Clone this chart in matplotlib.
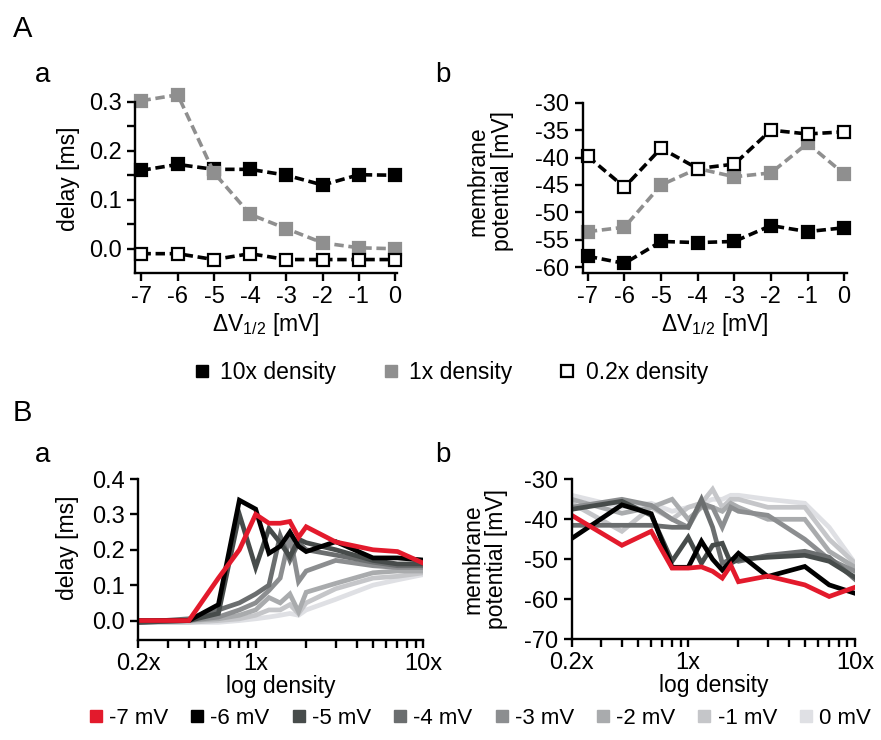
import numpy as np
import matplotlib
matplotlib.use('Agg')
import matplotlib.pyplot as plt
from matplotlib.lines import Line2D
from matplotlib.ticker import FixedLocator, NullFormatter

plt.rcParams['font.family'] = ['Liberation Sans', 'DejaVu Sans']
plt.rcParams['mathtext.fontset'] = 'custom'
plt.rcParams['mathtext.rm'] = 'Liberation Sans'
plt.rcParams['axes.unicode_minus'] = False

# --- panel A data: shift of V1/2 vs delay / membrane potential ---
dv = [-7, -6, -5, -4, -3, -2, -1, 0]
delay_10x = [0.160, 0.172, 0.162, 0.162, 0.150, 0.130, 0.151, 0.150]
delay_1x = [0.302, 0.314, 0.155, 0.070, 0.041, 0.012, 0.002, 0.000]
delay_02x = [-0.010, -0.010, -0.022, -0.010, -0.022, -0.022, -0.022, -0.022]
vm_10x = [-58.0, -59.3, -55.3, -55.5, -55.3, -52.4, -53.5, -52.8]
vm_1x = [-53.5, -52.7, -45.0, -42.0, -43.5, -42.8, -37.4, -43.0]
vm_02x = [-39.8, -45.4, -38.3, -42.0, -41.2, -35.0, -35.7, -35.3]

# --- panel B data: density sweep for each shift ---
density = [0.2, 0.4, 0.6, 0.8, 1.0, 1.2, 1.4, 1.6, 1.8, 2.0, 3.0, 5.0, 7.0, 10.0]
shift_labels = ['-7 mV', '-6 mV', '-5 mV', '-4 mV', '-3 mV', '-2 mV', '-1 mV', '0 mV']
shift_colors = ['#e31a2c', '#000000', '#474c4b', '#6b6e6f', '#8c8e90', '#a9abad', '#c5c6c9', '#dfe0e4']

delay_m7 = [0.0, 0.0, 0.12, 0.20, 0.30, 0.275, 0.275, 0.28, 0.235, 0.265, 0.222, 0.20, 0.195, 0.162]
delay_m6 = [0.0, 0.0, 0.045, 0.34, 0.315, 0.19, 0.21, 0.25, 0.21, 0.195, 0.223, 0.177, 0.177, 0.171]
delay_m5 = [-0.005, 0.0, 0.02, 0.30, 0.15, 0.26, 0.22, 0.18, 0.23, 0.22, 0.20, 0.17, 0.16, 0.16]
delay_m4 = [-0.005, 0.005, 0.03, 0.05, 0.075, 0.10, 0.24, 0.17, 0.22, 0.20, 0.185, 0.165, 0.155, 0.155]
delay_m3 = [-0.005, 0.0, 0.01, 0.03, 0.05, 0.085, 0.12, 0.24, 0.11, 0.14, 0.17, 0.155, 0.15, 0.15]
delay_m2 = [-0.005, 0.0, 0.005, 0.015, 0.03, 0.065, 0.05, 0.075, 0.025, 0.08, 0.105, 0.135, 0.14, 0.14]
delay_m1 = [-0.005, -0.005, 0.0, 0.005, 0.015, 0.03, 0.03, 0.045, 0.02, 0.05, 0.09, 0.12, 0.125, 0.135]
delay_0 = [-0.005, -0.005, -0.005, 0.0, 0.005, 0.01, 0.015, 0.02, 0.015, 0.03, 0.06, 0.10, 0.115, 0.13]

vm_m7 = [-39.0, -46.5, -43.0, -52.2, -52.2, -51.9, -53.0, -54.7, -51.5, -55.6, -54.2, -56.4, -59.3, -57.0]
vm_m6 = [-44.8, -36.4, -38.6, -52.0, -52.0, -45.5, -50.0, -52.7, -50.5, -48.5, -54.3, -51.8, -56.4, -58.5]
vm_m5 = [-37.5, -35.5, -39.0, -50.5, -44.5, -51.0, -46.5, -46.0, -51.0, -50.0, -49.5, -49.0, -50.5, -54.5]
vm_m4 = [-41.5, -41.5, -41.5, -42.0, -42.0, -35.0, -42.0, -51.0, -50.0, -50.5, -49.0, -48.0, -49.5, -55.0]
vm_m3 = [-37.0, -35.0, -36.5, -40.0, -42.0, -36.0, -37.0, -42.0, -37.0, -38.0, -39.0, -45.0, -50.0, -53.0]
vm_m2 = [-35.0, -38.5, -37.0, -35.0, -40.0, -37.0, -37.0, -38.0, -36.0, -37.0, -40.0, -40.0, -48.0, -52.0]
vm_m1 = [-36.0, -43.0, -37.0, -40.0, -37.0, -36.0, -32.5, -37.0, -35.0, -35.0, -37.0, -37.0, -45.0, -51.0]
vm_0 = [-34.0, -37.0, -36.0, -38.0, -37.0, -36.0, -35.0, -35.0, -34.0, -34.0, -35.0, -36.0, -42.0, -51.0]

delay_series = [delay_m7, delay_m6, delay_m5, delay_m4, delay_m3, delay_m2, delay_m1, delay_0]
vm_series = [vm_m7, vm_m6, vm_m5, vm_m4, vm_m3, vm_m2, vm_m1, vm_0]

GRAY = '#8f8f8f'
TICK_FS = 17
LABEL_FS = 16.5


def style_axes(ax):
    for s in ['top', 'right']:
        ax.spines[s].set_visible(False)
    for s in ['left', 'bottom']:
        ax.spines[s].set_linewidth(1.7)
    ax.tick_params(which='both', direction='out', width=1.7, length=5.5,
                   labelsize=TICK_FS, pad=4)


def dashed(ax, x, y, color, face):
    ax.plot(x, y, color=color, lw=2.6, dashes=(2.6, 1.3), marker='s', ms=9,
            mfc=face, mec=color, mew=1.6, clip_on=False)


fig = plt.figure(figsize=(8.81, 7.40), dpi=100)

# ---- A a ----
axAa = fig.add_axes([0.1532, 0.6307, 0.2974, 0.2319])
dashed(axAa, dv, delay_10x, 'black', 'black')
dashed(axAa, dv, delay_1x, GRAY, GRAY)
dashed(axAa, dv, delay_02x, 'black', 'white')
axAa.set_xlim(-7.18, 0.05)
axAa.set_ylim(-0.05, 0.3)
axAa.set_yticks([0.0, 0.1, 0.2, 0.3])
axAa.set_yticklabels(['0.0', '0.1', '0.2', '0.3'])
axAa.yaxis.set_minor_locator(FixedLocator([0.05, 0.15, 0.25]))
axAa.set_xticks(dv)
axAa.set_xticklabels([str(v) for v in dv])
style_axes(axAa)
axAa.set_ylabel('delay [ms]', fontsize=LABEL_FS)
axAa.yaxis.set_label_coords(-0.21, 0.55)
axAa.set_xlabel(r'ΔV$_{\mathregular{1/2}}$ [mV]', fontsize=LABEL_FS, labelpad=2)

# ---- A b ----
axAb = fig.add_axes([0.6614, 0.6307, 0.2997, 0.2305])
dashed(axAb, dv, vm_10x, 'black', 'black')
dashed(axAb, dv, vm_1x, GRAY, GRAY)
dashed(axAb, dv, vm_02x, 'black', 'white')
axAb.set_xlim(-7.14, 0.07)
axAb.set_ylim(-61.1, -30)
axAb.set_yticks([-30, -35, -40, -45, -50, -55, -60])
axAb.set_xticks(dv)
axAb.set_xticklabels([str(v) for v in dv])
style_axes(axAb)
axAb.set_ylabel('membrane\npotential [mV]', fontsize=LABEL_FS, linespacing=1.05)
axAb.yaxis.set_label_coords(-0.262, 0.54)
axAb.set_xlabel(r'ΔV$_{\mathregular{1/2}}$ [mV]', fontsize=LABEL_FS, labelpad=2)

# ---- B a / B b ----
axBa = fig.add_axes([0.157, 0.1351, 0.3237, 0.2176])
axBb = fig.add_axes([0.6489, 0.1361, 0.3216, 0.2162])
for i in range(len(shift_labels) - 1, -1, -1):
    axBa.plot(density, delay_series[i], color=shift_colors[i], lw=3.4, solid_joinstyle='miter')
    axBb.plot(density, vm_series[i], color=shift_colors[i], lw=3.4, solid_joinstyle='miter')

for ax in [axBa, axBb]:
    ax.set_xscale('log')
    ax.set_xlim(0.2, 10)
    ax.xaxis.set_major_locator(FixedLocator([0.2, 1, 10]))
    ax.set_xticklabels(['0.2x', '1x', '10x'])
    ax.xaxis.set_minor_locator(FixedLocator([0.3, 0.4, 0.5, 0.6, 0.7, 0.8, 0.9,
                                             2, 3, 4, 5, 6, 7, 8, 9]))
    ax.xaxis.set_minor_formatter(NullFormatter())
    style_axes(ax)
    ax.set_xlabel('log density', fontsize=LABEL_FS, labelpad=0)

axBa.set_ylim(-0.055, 0.4)
axBa.set_yticks([0.0, 0.1, 0.2, 0.3, 0.4])
axBa.set_yticklabels(['0.0', '0.1', '0.2', '0.3', '0.4'])
axBa.set_ylabel('delay [ms]', fontsize=LABEL_FS)
axBa.yaxis.set_label_coords(-0.208, 0.57)

axBb.set_ylim(-70, -30)
axBb.set_yticks([-30, -40, -50, -60, -70])
axBb.set_ylabel('membrane\npotential [mV]', fontsize=LABEL_FS, linespacing=1.05)
axBb.yaxis.set_label_coords(-0.225, 0.5)

# ---- panel letters ----
fig.text(13 / 881, 1 - 37 / 740, 'A', fontsize=21, va='baseline')
fig.text(35 / 881, 1 - 82 / 740, 'a', fontsize=20, va='baseline')
fig.text(435 / 881, 1 - 82 / 740, 'b', fontsize=20, va='baseline')
fig.text(13 / 881, 1 - 421 / 740, 'B', fontsize=21, va='baseline')
fig.text(35 / 881, 1 - 462 / 740, 'a', fontsize=20, va='baseline')
fig.text(435 / 881, 1 - 462 / 740, 'b', fontsize=20, va='baseline')

# ---- legends ----
hA = [Line2D([], [], ls='none', marker='s', ms=9, mfc='black', mec='black'),
      Line2D([], [], ls='none', marker='s', ms=9, mfc=GRAY, mec=GRAY),
      Line2D([], [], ls='none', marker='s', ms=8, mfc='white', mec='black', mew=1.6)]
fig.legend(hA, ['10x density', '1x density', '0.2x density'], ncol=3,
           loc='center', bbox_to_anchor=(0.511, 1 - 373 / 740), frameon=False,
           fontsize=16.5, handlelength=0.8, handletextpad=0.4, columnspacing=2.0)

hB = [Line2D([], [], ls='none', marker='s', ms=9, mfc=c, mec=c) for c in shift_colors]
fig.legend(hB, shift_labels, ncol=8, loc='center', bbox_to_anchor=(0.545, 1 - 718 / 740),
           frameon=False, fontsize=16, handlelength=0.6, handletextpad=0.3,
           columnspacing=1.0)

fig.savefig('out.png', dpi=100)
